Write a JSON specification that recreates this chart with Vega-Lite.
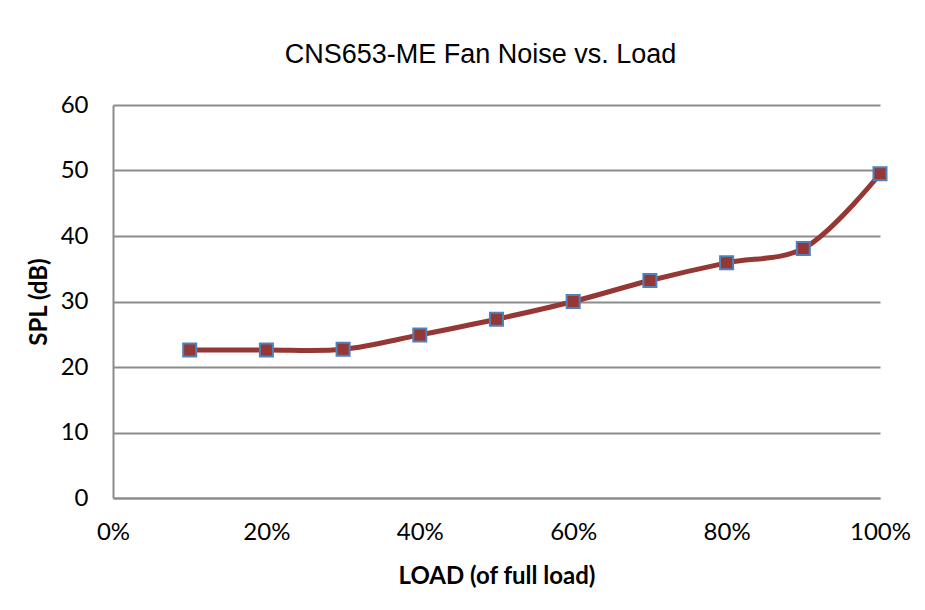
{
  "$schema": "https://vega.github.io/schema/vega-lite/v6.json",
  "width": 767,
  "height": 393,
  "autosize": {"type": "none"},
  "padding": {"left": 113, "top": 105, "right": 45, "bottom": 112},
  "background": "white",
  "config": {
    "view": {"stroke": null},
    "font": "Lato"
  },
  "title": {
    "text": "CNS653-ME Fan Noise vs. Load",
    "font": "Liberation Sans",
    "fontSize": 27,
    "fontWeight": "normal",
    "color": "#000000",
    "anchor": "middle",
    "dx": -16,
    "baseline": "alphabetic",
    "offset": 3
  },
  "data": {
    "values": [
      {"load": 0.1, "spl": 22.6},
      {"load": 0.2, "spl": 22.6},
      {"load": 0.3, "spl": 22.7},
      {"load": 0.4, "spl": 24.9},
      {"load": 0.5, "spl": 27.3},
      {"load": 0.6, "spl": 30.0},
      {"load": 0.7, "spl": 33.2},
      {"load": 0.8, "spl": 35.9},
      {"load": 0.9, "spl": 38.1},
      {"load": 1.0, "spl": 49.5}
    ]
  },
  "encoding": {
    "x": {
      "field": "load",
      "type": "quantitative",
      "scale": {"domain": [0, 1], "nice": false, "zero": true},
      "axis": {
        "title": "LOAD (of full load)",
        "format": ".0%",
        "values": [0, 0.2, 0.4, 0.6, 0.8, 1.0],
        "grid": false,
        "ticks": false,
        "domainColor": "#8c8c8c",
        "domainWidth": 2,
        "labelFont": "Lato",
        "labelFontSize": 24,
        "labelColor": "#000000",
        "labelPadding": 22,
        "labelFlush": false,
        "titleFont": "Lato",
        "titleFontSize": 24,
        "titleFontWeight": "bold",
        "titleColor": "#000000",
        "titlePadding": 20
      }
    },
    "y": {
      "field": "spl",
      "type": "quantitative",
      "scale": {"domain": [0, 60], "nice": false},
      "axis": {
        "title": "SPL (dB)",
        "values": [0, 10, 20, 30, 40, 50, 60],
        "grid": true,
        "gridColor": "#8c8c8c",
        "gridWidth": 2,
        "ticks": false,
        "domainColor": "#8c8c8c",
        "domainWidth": 2,
        "labelFont": "Lato",
        "labelFontSize": 24,
        "labelColor": "#000000",
        "labelPadding": 25,
        "labelFlush": false,
        "titleFont": "Lato",
        "titleFontSize": 24,
        "titleFontWeight": "bold",
        "titleColor": "#000000",
        "titlePadding": 9
      }
    }
  },
  "layer": [
    {
      "mark": {"type": "line", "color": "#953735", "strokeWidth": 5, "interpolate": "catmull-rom"}
    },
    {
      "mark": {"type": "point", "shape": "square", "filled": true, "fill": "#953735", "stroke": "#4f81bd", "strokeWidth": 2, "size": 170, "opacity": 1}
    }
  ]
}
